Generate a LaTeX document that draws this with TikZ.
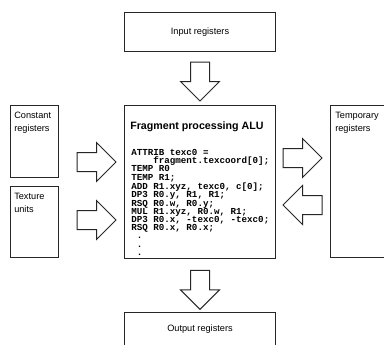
\documentclass[tikz,border=0pt]{standalone}
\usepackage{fontspec}
\setmainfont{Liberation Sans}
\setmonofont{Liberation Mono}
\begin{document}
\begin{tikzpicture}[x=0.75pt,y=-0.75pt,
  box/.style={draw=black!85, line width=0.75pt, fill=white, inner sep=0pt},
  boxtext/.style={font=\fontsize{6.9}{9.75}\selectfont, inner sep=0pt, align=left, anchor=north west},
  codetext/.style={font=\ttfamily\bfseries\fontsize{6.9}{6.15}\selectfont, inner sep=0pt, align=left, anchor=north west},
  titletext/.style={font=\bfseries\fontsize{8}{10}\selectfont, inner sep=0pt, anchor=west},
  blockarrow/.pic={
    \draw[draw=black!85, line width=0.75pt, fill=white, line join=miter]
      (0,-9.5) -- (19.5,-9.5) -- (19.5,-19.5) -- (39,0) -- (19.5,19.5)
      -- (19.5,9.5) -- (0,9.5) -- cycle;
  }]
\useasboundingbox (0,0) rectangle (384,344);
\clip (0,0) rectangle (384,344);

% register files and units
\node[box, anchor=north west, minimum width=151*0.75pt, minimum height=39*0.75pt,
      font=\fontsize{6.9}{9.75}\selectfont] (input) at (124,12) {Input registers};
\node[box, anchor=north west, minimum width=151*0.75pt, minimum height=34*0.75pt,
      font=\fontsize{6.9}{9.75}\selectfont] (output) at (124,312) {Output registers};
\node[box, anchor=north west, minimum width=48*0.75pt, minimum height=72*0.75pt] (const) at (10,105) {};
\node[box, anchor=north west, minimum width=48*0.75pt, minimum height=71*0.75pt] (tex) at (10,186) {};
\node[box, anchor=north west, minimum width=70*0.75pt, minimum height=152*0.75pt] (temp) at (330,105) {};
\node[box, anchor=north west, minimum width=151*0.75pt, minimum height=153*0.75pt] (alu) at (124,105) {};

\node[boxtext] (constlbl) at ([shift={(4,7)}]const.north west) {Constant\\registers};
\node[boxtext] (texlbl) at ([shift={(4,7)}]tex.north west) {Texture\\units};
\node[boxtext] (templbl) at ([shift={(5,7)}]temp.north west) {Temporary\\registers};

% processing unit contents
\node[titletext] (title) at ([shift={(6,22)}]alu.north west) {Fragment processing ALU};
\node[codetext] (code) at ([shift={(7,44)}]alu.north west) {%
ATTRIB texc0 =\\
\phantom{xxxx}fragment.texcoord[0];\\
TEMP R0\\
TEMP R1;\\
ADD R1.xyz, texc0, c[0];\\
DP3 R0.y, R1, R1;\\
RSQ R0.w, R0.y;\\
MUL R1.xyz, R0.w, R1;\\
DP3 R0.x, -texc0, -texc0;\\
RSQ R0.x, R0.x;\\
\phantom{x}.\\
\phantom{x}.\\
\phantom{x}.};

% data flow
\pic[rotate=-90] at ([yshift=-7.5]input.south) {blockarrow};
\pic[rotate=-90] at ([yshift=-8.5]alu.south) {blockarrow};
\pic at (77,162) {blockarrow};
\pic at (77,220) {blockarrow};
\pic at (283,158) {blockarrow};
\pic[rotate=180] at (322,205) {blockarrow};
\end{tikzpicture}
\end{document}
